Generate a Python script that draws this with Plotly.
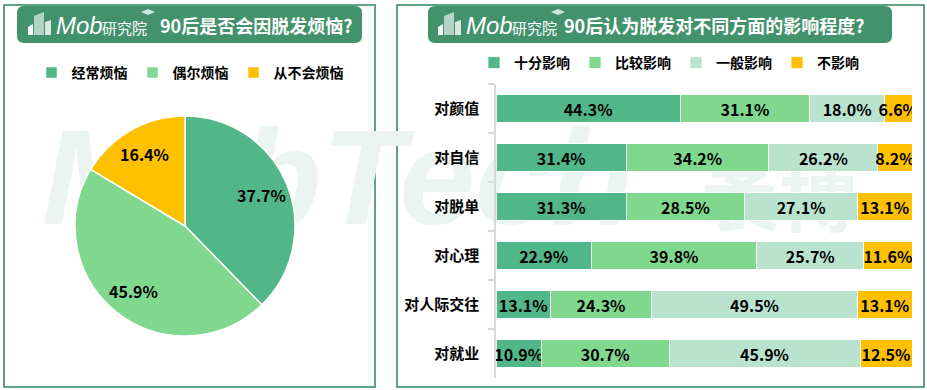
import math
import plotly.graph_objects as go

# ---------------- data ----------------
pie_labels = ['经常烦恼', '偶尔烦恼', '从不会烦恼']
pie_values = [37.7, 45.9, 16.4]

bar_categories = ['对颜值', '对自信', '对脱单', '对心理', '对人际交往', '对就业']
series_names = ['十分影响', '比较影响', '一般影响', '不影响']
very_much = [44.3, 31.4, 31.3, 22.9, 13.1, 10.9]
quite = [31.1, 34.2, 28.5, 39.8, 24.3, 30.7]
moderate = [18.0, 26.2, 27.1, 25.7, 49.5, 45.9]
no_effect = [6.6, 8.2, 13.1, 11.6, 13.1, 12.5]
series_values = [very_much, quite, moderate, no_effect]

left_title = '90后是否会因脱发烦恼?'
right_title = '90后认为脱发对不同方面的影响程度?'

# ---------------- styling ----------------
W, H = 927, 390
COLORS = ['#52B788', '#80D88F', '#BAE3CF', '#FFC000']
HEADER = '#42926B'
BORDER = '#5FA482'
FONT = 'Noto Sans CJK SC'
WM = '#EAF4F0'


def fx(x):
    return x / W


def fy(y):
    return 1 - y / H


fig = go.Figure()

# watermark on a background subplot (x/y drawn first, below everything)
fig.add_trace(go.Scatter(
    x=[42], y=[190], text=['MobTech'], mode='text', textposition='middle right',
    textfont=dict(family='Liberation Sans', size=136, color=WM, style='italic', weight='bold'),
    xaxis='x', yaxis='y', showlegend=False, hoverinfo='skip'))
fig.add_trace(go.Scatter(
    x=[700], y=[205], text=['袤博'], mode='text', textposition='middle right',
    textfont=dict(family=FONT, size=80, color=WM, weight='bold'),
    xaxis='x', yaxis='y', showlegend=False, hoverinfo='skip'))

# pie
PCX, PCY, PR = 185, 226, 110
fig.add_trace(go.Pie(
    labels=pie_labels, values=pie_values, sort=False, direction='clockwise', rotation=0,
    marker=dict(colors=COLORS[0:2] + [COLORS[3]], line=dict(color='white', width=1.5)),
    textinfo='none',
    domain=dict(x=[fx(PCX - PR), fx(PCX + PR)], y=[fy(PCY + PR), fy(PCY - PR)]),
    legend='legend', hoverinfo='skip'))

annotations = []
# pie value labels placed at the middle angle of each slice
total = sum(pie_values)
cum = 0.0
for v in pie_values:
    mid = (cum + v / 2) / total * 2 * math.pi
    cum += v
    rho = 0.75 * PR
    annotations.append(dict(xref='paper', yref='paper',
                            x=fx(PCX + rho * math.sin(mid)), y=fy(PCY - rho * math.cos(mid)),
                            xanchor='center', yanchor='middle', showarrow=False,
                            text=f'{v:.1f}%',
                            font=dict(family=FONT, size=16, color='black', weight='bold')))

# stacked bars
for name, vals, col in zip(series_names, series_values, COLORS):
    fig.add_trace(go.Bar(
        name=name, x=vals, y=bar_categories, orientation='h',
        marker=dict(color=col, line=dict(color='white', width=0.8)),
        text=[f'{v:.1f}%' for v in vals], textposition='inside', insidetextanchor='middle',
        textangle=0, textfont=dict(family=FONT, size=16, color='black', weight='bold'),
        xaxis='x2', yaxis='y2', legend='legend2', hoverinfo='skip'))

# ---------------- shapes ----------------
shapes = []
# panel borders
for x0, x1 in [(4, 375), (397, 924)]:
    shapes.append(dict(type='rect', xref='paper', yref='paper', x0=fx(x0), x1=fx(x1),
                       y0=fy(387), y1=fy(5), line=dict(color=BORDER, width=2),
                       fillcolor='rgba(0,0,0,0)', layer='below'))


def rounded(x0, y0, x1, y1, r):
    rx, ry = r / W, r / H
    X0, X1, Y0, Y1 = fx(x0), fx(x1), fy(y0), fy(y1)  # Y0 top, Y1 bottom
    return (f'M{X0+rx},{Y0} L{X1-rx},{Y0} Q{X1},{Y0} {X1},{Y0-ry} '
            f'L{X1},{Y1+ry} Q{X1},{Y1} {X1-rx},{Y1} L{X0+rx},{Y1} '
            f'Q{X0},{Y1} {X0},{Y1+ry} L{X0},{Y0-ry} Q{X0},{Y0} {X0+rx},{Y0} Z')


for x0, x1 in [(17, 362), (428, 892)]:
    shapes.append(dict(type='path', xref='paper', yref='paper', path=rounded(x0, 6, x1, 43, 7),
                       fillcolor=HEADER, line=dict(width=0), layer='above'))


def poly(pts):
    return 'M' + ' L'.join(f'{fx(a)},{fy(b)}' for a, b in pts) + ' Z'


for off, title_x, title in [(0, 158, left_title), (410, 562, right_title)]:
    # logo icon (building blocks)
    shapes.append(dict(type='path', xref='paper', yref='paper',
                       path=poly([(28 + off, 35), (28 + off, 27), (33 + off, 24), (33 + off, 35)]),
                       fillcolor='rgba(255,255,255,0.95)', line=dict(width=0), layer='above'))
    shapes.append(dict(type='path', xref='paper', yref='paper',
                       path=poly([(34 + off, 35), (34 + off, 16), (44 + off, 12), (44 + off, 35)]),
                       fillcolor='rgba(255,255,255,0.6)', line=dict(width=0), layer='above'))
    shapes.append(dict(type='path', xref='paper', yref='paper',
                       path=poly([(45 + off, 35), (45 + off, 22), (51 + off, 20), (51 + off, 35)]),
                       fillcolor='rgba(255,255,255,0.8)', line=dict(width=0), layer='above'))
    # tiny graduation cap
    shapes.append(dict(type='path', xref='paper', yref='paper',
                       path=poly([(141 + off, 12), (148 + off, 9), (155 + off, 12), (148 + off, 15)]),
                       fillcolor='rgba(255,255,255,0.75)', line=dict(width=0), layer='above'))
    annotations.append(dict(xref='paper', yref='paper', x=fx(54 + off), y=fy(26), xanchor='left',
                            yanchor='middle', showarrow=False, text='Mob',
                            font=dict(family='Liberation Sans', size=24, color='white', style='italic')))
    annotations.append(dict(xref='paper', yref='paper', x=fx(100 + off), y=fy(28), xanchor='left',
                            yanchor='middle', showarrow=False, text='研究院',
                            font=dict(family=FONT, size=15, color='white')))
    annotations.append(dict(xref='paper', yref='paper', x=fx(title_x), y=fy(25), xanchor='left',
                            yanchor='middle', showarrow=False, text=title,
                            font=dict(family=FONT, size=18, color='white', weight='bold')))

fig.update_layout(
    width=W, height=H, margin=dict(l=0, r=0, t=0, b=0),
    paper_bgcolor='white', plot_bgcolor='rgba(0,0,0,0)',
    font=dict(family=FONT, color='black'),
    barmode='stack', bargap=0.435,
    uniformtext=dict(minsize=16, mode='show'),
    xaxis=dict(domain=[0, 1], range=[0, W], visible=False, fixedrange=True),
    yaxis=dict(domain=[0, 1], range=[H, 0], visible=False, fixedrange=True),
    xaxis2=dict(domain=[fx(496), fx(912)], range=[0, 100], visible=False, anchor='y2'),
    yaxis2=dict(domain=[fy(378), fy(84)], anchor='x2', type='category', autorange='reversed',
                showline=True, linecolor='#D9D9D9', linewidth=1.5, ticks='outside',
                tickson='boundaries', ticklen=6, tickcolor='#D9D9D9', tickwidth=1.5,
                showgrid=False, ticklabelstandoff=12,
                tickfont=dict(family=FONT, size=15, color='black', weight='bold')),
    legend=dict(orientation='h', x=fx(190), xanchor='center', y=fy(73), yanchor='middle',
                font=dict(family=FONT, size=14, color='black', weight='bold'),
                bgcolor='rgba(0,0,0,0)', itemclick=False, itemdoubleclick=False),
    legend2=dict(orientation='h', x=fx(669), xanchor='center', y=fy(63), yanchor='middle',
                 traceorder='normal',
                 font=dict(family=FONT, size=14, color='black', weight='bold'),
                 bgcolor='rgba(0,0,0,0)', itemclick=False, itemdoubleclick=False),
    shapes=shapes, annotations=annotations,
)

fig.write_html('out.html', config={'displayModeBar': False},
               post_script="document.body.style.margin='0';document.body.style.padding='0';")
